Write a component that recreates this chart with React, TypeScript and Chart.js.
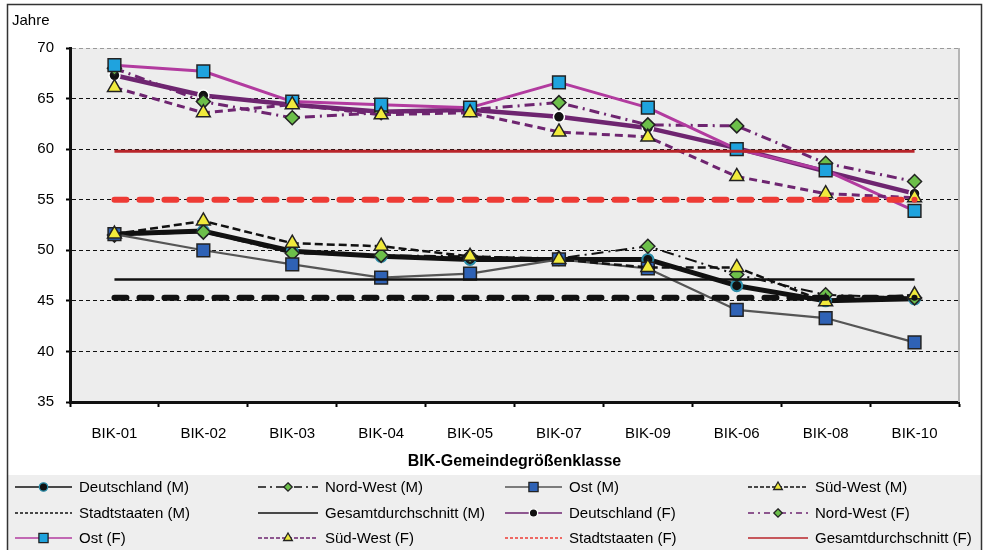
import React, { useEffect, useRef } from 'react';
import { Chart, registerables } from 'chart.js';

Chart.register(...registerables);

const categories = ['BIK-01', 'BIK-02', 'BIK-03', 'BIK-04', 'BIK-05', 'BIK-07', 'BIK-09', 'BIK-06', 'BIK-08', 'BIK-10'];
const yTicks = [35, 40, 45, 50, 55, 60, 65, 70];

const deutschlandM = [51.6, 51.9, 49.9, 49.4, 49.1, 49.1, 49.1, 46.5, 45.0, 45.2];
const nordWestM = [51.5, 51.8, 49.7, 49.5, 49.4, 49.2, 50.4, 47.6, 45.6, 45.3];
const ostM = [51.6, 50.0, 48.6, 47.3, 47.7, 49.1, 48.2, 44.1, 43.3, 40.9];
const suedWestM = [51.6, 52.9, 50.7, 50.4, 49.4, 49.1, 48.3, 48.3, 44.9, 45.6];
const stadtstaatenM = [45.3, 45.3, 45.3, 45.3, 45.3, 45.3, 45.3, 45.3, 45.3, 45.3];
const gesamtM = [47.1, 47.1, 47.1, 47.1, 47.1, 47.1, 47.1, 47.1, 47.1, 47.1];
const deutschlandF = [67.3, 65.3, 64.4, 63.7, 63.9, 63.2, 62.1, 60.1, 57.8, 55.6];
const nordWestF = [68.0, 64.7, 63.1, 63.6, 63.9, 64.6, 62.4, 62.3, 58.6, 56.8];
const ostF = [68.3, 67.7, 64.7, 64.4, 64.1, 66.6, 64.1, 60.0, 57.9, 53.9];
const suedWestF = [66.1, 63.6, 64.4, 63.4, 63.6, 61.7, 61.2, 57.3, 55.6, 55.2];
const stadtstaatenF = [55.0, 55.0, 55.0, 55.0, 55.0, 55.0, 55.0, 55.0, 55.0, 55.0];
const gesamtF = [59.8, 59.8, 59.8, 59.8, 59.8, 59.8, 59.8, 59.8, 59.8, 59.8];

const seriesLabels = [
  'Deutschland (M)', 'Nord-West (M)', 'Ost (M)', 'Süd-West (M)',
  'Stadtstaaten (M)', 'Gesamtdurchschnitt (M)', 'Deutschland (F)', 'Nord-West (F)',
  'Ost (F)', 'Süd-West (F)', 'Stadtstaaten (F)', 'Gesamtdurchschnitt (F)',
];

const FONT = "'Liberation Sans', Arial, sans-serif";
const GREEN = '#6cbf4a';
const YELLOW = '#f0ea3c';
const PURPLE = '#6e2570';

type Style = {
  color: string; width: number; dash: number[]; legendDash: number[];
  point: string | false; radius: number; bg: string; pb: string; pbw: number; cap?: CanvasLineCap;
};

const styles: Style[] = [
  { color: '#111', width: 5, dash: [], legendDash: [], point: 'circle', radius: 5.5, bg: '#111', pb: '#2a8ca8', pbw: 2 },
  { color: '#111', width: 2, dash: [12, 5, 2, 5], legendDash: [8, 4, 2, 4], point: 'rectRot', radius: 7, bg: GREEN, pb: '#222', pbw: 1.5 },
  { color: '#555', width: 2.2, dash: [], legendDash: [], point: 'rect', radius: 9, bg: '#2f62b5', pb: '#222', pbw: 1.5 },
  { color: '#111', width: 2.5, dash: [8, 4], legendDash: [4, 2], point: 'triangle', radius: 8, bg: YELLOW, pb: '#222', pbw: 1.5 },
  { color: '#111', width: 6, dash: [12, 13], legendDash: [3, 2], point: false, radius: 0, bg: '#111', pb: '#111', pbw: 0, cap: 'round' },
  { color: '#111', width: 2.5, dash: [], legendDash: [], point: false, radius: 0, bg: '#111', pb: '#111', pbw: 0 },
  { color: PURPLE, width: 4.5, dash: [], legendDash: [], point: 'circle', radius: 5.5, bg: '#111', pb: '#fff', pbw: 1.5 },
  { color: PURPLE, width: 3, dash: [10, 5, 2, 5], legendDash: [6, 4, 2, 4], point: 'rectRot', radius: 7, bg: GREEN, pb: '#222', pbw: 1.5 },
  { color: '#b23b9f', width: 3, dash: [], legendDash: [], point: 'rect', radius: 9, bg: '#1fa3de', pb: '#222', pbw: 1.5 },
  { color: PURPLE, width: 3, dash: [8, 5], legendDash: [4, 2], point: 'triangle', radius: 8, bg: YELLOW, pb: '#222', pbw: 1.5 },
  { color: '#ee3b35', width: 6, dash: [12, 13], legendDash: [3, 2], point: false, radius: 0, bg: '#ee3b35', pb: '#ee3b35', pbw: 0, cap: 'round' },
  { color: '#b8252a', width: 3, dash: [], legendDash: [], point: false, radius: 0, bg: '#b8252a', pb: '#b8252a', pbw: 0 },
];

const seriesData = [deutschlandM, nordWestM, ostM, suedWestM, stadtstaatenM, gesamtM, deutschlandF, nordWestF, ostF, suedWestF, stadtstaatenF, gesamtF];

function drawMarker(ctx: CanvasRenderingContext2D, style: string, x: number, y: number, r: number, fill: string, stroke: string, lw: number) {
  ctx.save();
  ctx.setLineDash([]);
  ctx.fillStyle = fill;
  ctx.strokeStyle = stroke;
  ctx.lineWidth = lw;
  ctx.beginPath();
  if (style === 'circle') {
    ctx.arc(x, y, r, 0, Math.PI * 2);
  } else if (style === 'rect') {
    const s = r / Math.SQRT2;
    ctx.rect(x - s, y - s, 2 * s, 2 * s);
  } else if (style === 'rectRot') {
    ctx.moveTo(x, y - r); ctx.lineTo(x + r, y); ctx.lineTo(x, y + r); ctx.lineTo(x - r, y); ctx.closePath();
  } else if (style === 'triangle') {
    const e = (3 * r) / Math.sqrt(3);
    const h = (e * Math.sqrt(3)) / 2;
    ctx.moveTo(x - e / 2, y + h / 3); ctx.lineTo(x + e / 2, y + h / 3); ctx.lineTo(x, y - (2 * h) / 3); ctx.closePath();
  }
  ctx.fill();
  if (lw > 0) ctx.stroke();
  ctx.restore();
}

const framePlugin = {
  id: 'frame',
  beforeDraw(chart: any) {
    const { ctx, chartArea: a, width, height } = chart;
    ctx.save();
    ctx.fillStyle = '#fff';
    ctx.fillRect(0, 0, width, height);
    ctx.fillStyle = '#ededed';
    ctx.fillRect(a.left, a.top, a.right - a.left, a.bottom - a.top);
    ctx.fillStyle = '#eeeeee';
    ctx.fillRect(8, 475, 973, 80);
    ctx.restore();
  },
  beforeDatasetsDraw(chart: any) {
    const { ctx, chartArea: a } = chart;
    ctx.save();
    ctx.strokeStyle = '#b5b5b5';
    ctx.lineWidth = 2;
    ctx.beginPath();
    ctx.moveTo(a.right, a.top);
    ctx.lineTo(a.right, a.bottom);
    ctx.stroke();
    ctx.restore();
  },
  afterDraw(chart: any) {
    const { ctx } = chart;
    ctx.save();
    ctx.strokeStyle = '#333';
    ctx.lineWidth = 1.5;
    ctx.strokeRect(7.5, 4.5, 974, 560);
    ctx.fillStyle = '#000';
    ctx.font = `15px ${FONT}`;
    ctx.textBaseline = 'middle';
    ctx.textAlign = 'left';
    ctx.fillText('Jahre', 12, 21);
    const colX = [15, 258, 505, 748];
    const colLen = [57, 60, 57, 60];
    const rowY = [487, 513, 538];
    seriesLabels.forEach((label, i) => {
      const s = styles[i];
      const r = Math.floor(i / 4);
      const c = i % 4;
      const x0 = colX[c];
      const x1 = x0 + colLen[c];
      const y = rowY[r];
      ctx.save();
      ctx.strokeStyle = s.color;
      ctx.lineWidth = 1.3;
      ctx.setLineDash(s.legendDash);
      ctx.beginPath();
      ctx.moveTo(x0, y);
      ctx.lineTo(x1, y);
      ctx.stroke();
      ctx.restore();
      if (s.point) {
        const rr = s.point === 'rect' ? 6.5 : s.point === 'triangle' ? 5 : 4.2;
        drawMarker(ctx, s.point as string, (x0 + x1) / 2, y, rr, s.bg, s.pb, 1.3);
      }
      ctx.fillStyle = '#000';
      ctx.font = `15px ${FONT}`;
      ctx.textBaseline = 'middle';
      ctx.fillText(label, x1 + 7, y + 1);
    });
    ctx.restore();
  },
};

export default function App() {
  const ref = useRef<HTMLCanvasElement>(null);
  useEffect(() => {
    if (!ref.current) return;
    const chart = new Chart(ref.current, {
      type: 'line',
      data: {
        labels: categories,
        datasets: seriesLabels.map((label, i) => {
          const s = styles[i];
          return {
            label,
            data: seriesData[i],
            borderColor: s.color,
            backgroundColor: s.bg,
            borderWidth: s.width,
            borderDash: s.dash,
            borderCapStyle: s.cap || 'butt',
            borderJoinStyle: 'round',
            pointStyle: s.point || 'circle',
            pointRadius: s.radius,
            pointHoverRadius: s.radius,
            pointBackgroundColor: s.bg,
            pointBorderColor: s.pb,
            pointBorderWidth: s.pbw,
            tension: 0,
            fill: false,
            order: 20 - i,
          } as any;
        }),
      },
      options: {
        animation: false,
        responsive: false,
        events: [],
        layout: { padding: { left: 10, right: 25, top: 48, bottom: 78 } },
        plugins: {
          legend: { display: false },
          title: { display: false },
          tooltip: { enabled: false },
        },
        scales: {
          x: {
            type: 'category',
            offset: true,
            afterFit: (scale: any) => { scale.height = 70; },
            grid: {
              drawOnChartArea: false,
              drawTicks: true,
              tickLength: 5,
              tickWidth: 2,
              tickColor: '#000',
              offset: true,
            },
            border: { display: true, color: '#111', width: 3 },
            ticks: { color: '#000', font: { family: FONT, size: 15 }, padding: 18, maxRotation: 0 },
            title: {
              display: true,
              text: 'BIK-Gemeindegrößenklasse',
              color: '#000',
              font: { family: FONT, size: 16, weight: 'bold' },
              padding: { top: 0, bottom: 1 },
            },
          },
          y: {
            min: 35,
            max: 70,
            afterFit: (scale: any) => { scale.width = 60; },
            afterBuildTicks: (scale: any) => { scale.ticks = yTicks.map((v) => ({ value: v })); },
            grid: {
              color: (c: any) => (c.tick && c.tick.value === 70 ? '#9a9a9a' : '#111'),
              lineWidth: 1,
              drawTicks: true,
              tickLength: 4,
              tickWidth: 2,
              tickColor: '#000',
              tickBorderDash: [],
            },
            border: { display: true, color: '#111', width: 3, dash: [4, 3] },
            ticks: { color: '#000', font: { family: FONT, size: 15 }, padding: 12 },
          },
        },
      } as any,
      plugins: [framePlugin],
    });
    return () => chart.destroy();
  }, []);
  return (
    <div style={{ position: 'absolute', left: 0, top: 0, width: 984, height: 550 }}>
      <canvas ref={ref} width={984} height={550} style={{ width: 984, height: 550, display: 'block' }} />
    </div>
  );
}
